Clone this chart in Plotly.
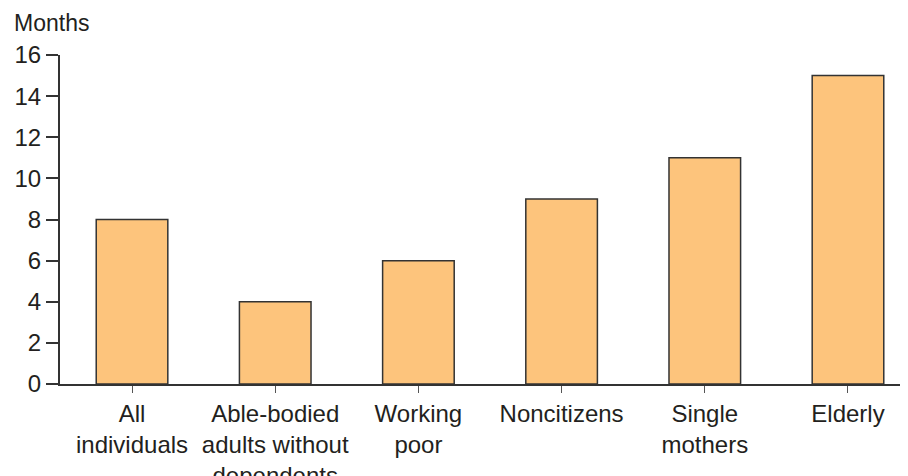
import plotly.graph_objects as go

categories = ["All<br>individuals", "Able-bodied<br>adults without<br>dependents", "Working<br>poor",
              "Noncitizens", "Single<br>mothers", "Elderly"]
months = [8, 4, 6, 9, 11, 15]
y_ticks = [0, 2, 4, 6, 8, 10, 12, 14, 16]

txt = "#231f20"
fig = go.Figure(go.Bar(
    x=list(range(len(categories))), y=months, width=0.5,
    marker=dict(color="#fdc47c", line=dict(color="#333333", width=1.5)),
))
W, H = 908, 476
L, R, T, B = 52, 0, 47, 100
fig.update_layout(
    width=W, height=H, margin=dict(l=L, r=R, t=T, b=B, autoexpand=False),
    plot_bgcolor="white", paper_bgcolor="white", showlegend=False,
    font=dict(family="Liberation Sans, Arial, sans-serif", size=24, color=txt),
    xaxis=dict(range=[-0.503, 5.475], tickmode="array", tickvals=list(range(len(categories))),
               ticktext=categories, showgrid=False, zeroline=False, automargin=False,
               showline=True, linecolor="#333333", linewidth=2,
               ticks="outside", ticklen=7, tickcolor="#555555", tickwidth=1),
    yaxis=dict(range=[0, 16], tickvals=y_ticks, showgrid=False, zeroline=False, automargin=False,
               showline=True, linecolor="#333333", linewidth=2,
               ticks="outside", ticklen=12, tickcolor="#333333", tickwidth=1.5),
    annotations=[dict(text="Months", xref="paper", yref="paper",
                      x=(4 - L) / (W - L - R), y=1 + (T - 15) / (H - T - B),
                      xanchor="left", yanchor="middle", showarrow=False,
                      font=dict(size=23, color=txt))],
)
fig.write_html("out.html")
